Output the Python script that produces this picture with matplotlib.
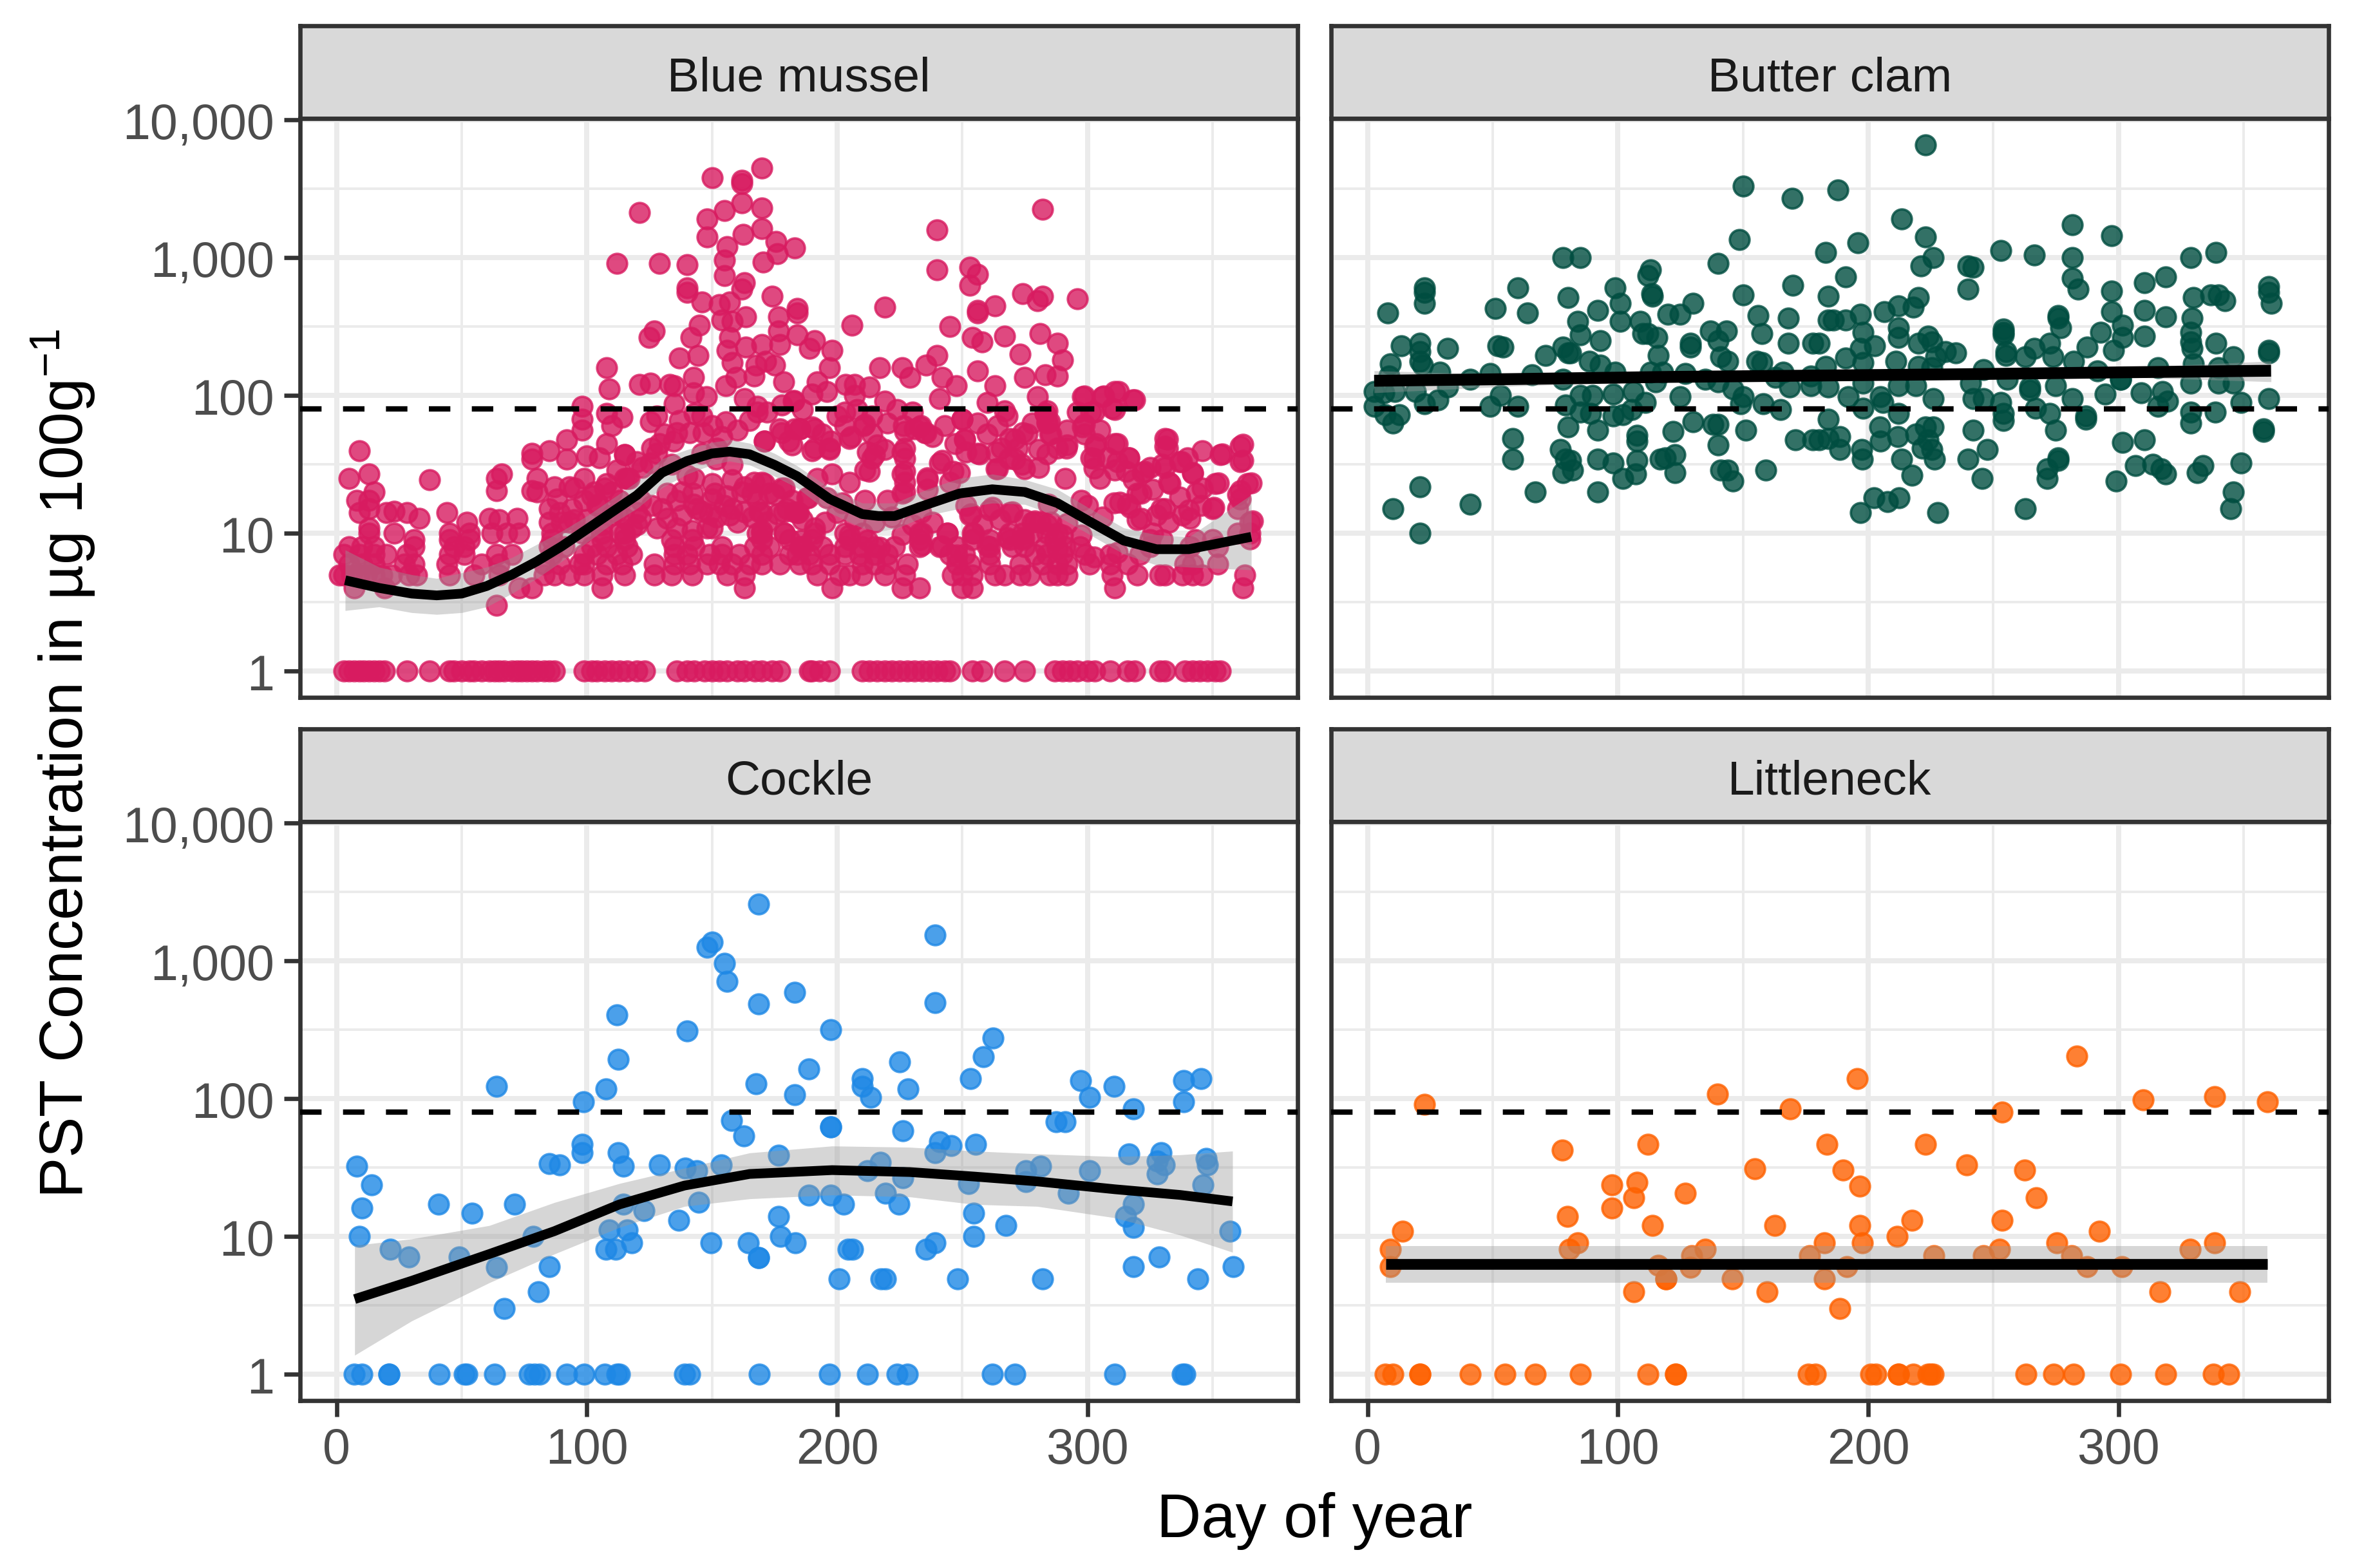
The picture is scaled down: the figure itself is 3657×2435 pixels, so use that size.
import numpy as np
import matplotlib
matplotlib.use("Agg")
import matplotlib.pyplot as plt

plt.rcParams['font.family'] = ['Liberation Sans', 'DejaVu Sans']
plt.rcParams['mathtext.fontset'] = 'custom'
plt.rcParams['mathtext.rm'] = 'Liberation Sans'
plt.rcParams['mathtext.default'] = 'rm'

# Blue mussel: days on the low detection rows (the values are discrete there)
mussel_at_1 = [3,5,7,9,11,13,15,17,19,28,37,45,47,50,53,55,58,61,63,65,67,70,72,74,76,78,80,83,85,87,
               99,102,104,107,110,113,116,120,123,136,140,143,147,150,153,156,160,163,167,170,174,177,
               190,189,193,197,210,213,216,219,222,225,228,231,234,237,240,243,245,254,258,267,275,
               287,290,293,296,300,303,309,316,319,329,331,339,342,345,348,351,353]
mussel_at_3 = [64]
mussel_at_4 = [7,19,73,78,106,163,198,226,233,250,254,311,362]
mussel_at_5 = [1,3,6,9,12,15,18,22,29,32,45,55,65,83,87,93,99,106,115,127,134,142,156,163,
               192,201,205,210,219,227,246,250,254,263,267,273,277,285,288,292,310,320,329,331,338,342,346,363]
mussel_at_6 = [5,10,15,27,31,44,58,65,83,89,97,99,108,114,127,135,141,148,153,158,165,170,177,185,
               190,197,210,215,220,228,248,253,261,273,282,288,292,301,309,316,339,342,352]
mussel_at_7 = [3,9,15,20,28,45,51,64,70,86,99,104,112,118,135,140,149,154,161,170,181,
               184,189,197,203,209,215,220,245,251,261,279,284,290,299,309,321]
mussel_at_8 = [5,10,15,31,47,51,85,91,102,108,116,135,143,154,167,173,185,
               186,194,203,210,215,223,233,241,248,261,270,275,283,291,297,325,341,352]
mussel_at_9 = [31,45,53,86,106,115,134,142,170,181,190,205,233,254,261,269,274,287,325,330,343,350]
mussel_at_10 = [13,23,45,53,62,68,73,86,106,115,170,179,191,203,210,233,244,254,269,274,278,284,288,326,360,365]

# Blue mussel: everything above the rows, as day and log10 of concentration
mussel_day = [9,5,13,15,8,13,9,13,13,20,23,28,33,37,44,52,61,65,72,66,64,64,78,78,85,92,92,80,80,78,87,93,
              98,98,98,108,109,99,100,108,105,110,114,115,115,107,121,112,129,140,140,140,150,162,162,170,
              148,155,162,170,148,156,162.5,170,175.6,176,183,170.5,155,155,163,162,174,153,157,154,158,163.4,
              184,184,176.6,176.6,184,177,170,163.5,157,156,158,167.5,171.4,175,178.6,182.5,159.6,166.8,155.6,
              147.8,142.5,142.5,135,121,125.5,133,135,163,168,168,155.6,143,128,125.5,136,146.5,129,134.6,177,183,
              171,180.6,125.5,151.7,143,158,170,179,132,142.4,151,166,172.7,121.5,138,149,157,170,180,184.5,142.5,
              158,150,170,121.5,108,115,85,89,94,99,104.5,85,93,113,120,110,115,127,125,137,144.5,141.6,145,146,
              282,240,240,253,256,253,274,282,280,296,263,256,256,219,206,245,254,258,267,281,273,288,290,191,189,
              198,197,217,226,235.4,240,229,242,247.6,256,263,275,283,288,192,203.4,207,213,190,196,207,219,203,
              241,260,267,280,283,298,306,311,318,310,301.4,250,298,233,227,235,210.6,205,190,185,284,274,269,251,
              331,331,353,361,361,364,311,303,291.6,316.5,330,337,342,351,346,333,360,322,312,301.4,241,256,263.5,
              271,280.5,226,215,197,211,226,236,249,263.5,275,291,305,318.4,205,192,198,310.6,316,329.5,340.6,350,
              360,338,327.6,320,365,365,269,278,261,253,233.5,220,211,202,196,188,184,226,236,245,297.5,284.4,292,320]
mussel_log = [1.60,1.40,1.43,1.30,1.24,1.24,1.15,1.18,1.04,1.15,1.16,1.15,1.11,1.39,1.15,1.08,1.11,1.10,1.11,1.43,1.40,1.31,
              1.58,1.54,1.60,1.68,1.54,1.40,1.30,1.31,1.34,1.34,1.92,1.83,1.75,2.20,2.05,1.40,1.56,1.65,1.55,1.78,1.84,1.57,
              1.40,1.33,3.33,2.96,2.96,2.95,2.78,2.75,3.58,3.56,3.54,3.65,3.28,3.34,3.40,3.36,3.15,3.08,3.17,3.21,3.12,3.03,3.07,
              2.97,2.98,2.87,2.82,2.77,2.72,2.66,2.68,2.55,2.54,2.57,2.63,2.60,2.57,2.47,2.44,2.37,2.37,2.35,2.42,2.33,2.24,2.22,
              2.25,2.22,2.10,1.96,2.13,2.14,2.07,1.99,2.13,2.02,1.94,2.08,2.09,2.08,2.07,1.98,1.92,1.88,1.81,1.87,1.85,1.81,1.73,
              1.73,1.65,1.67,1.76,1.76,1.67,1.67,1.51,1.54,1.40,1.39,1.37,1.33,1.29,1.29,1.29,1.29,1.29,1.24,1.13,1.14,1.13,1.15,
              1.18,1.15,1.21,1.18,1.04,1.02,1.11,1.87,1.57,1.18,1.15,1.18,1.24,1.21,1.08,1.08,1.24,1.15,1.13,1.11,2.47,2.42,2.27,
              2.29,2.42,2.51,2.68,3.35,3.20,2.91,2.93,2.88,2.80,2.74,2.72,2.69,2.70,2.65,2.62,2.60,2.64,2.51,2.50,2.42,2.39,2.43,
              2.45,2.30,2.38,2.26,2.40,2.34,2.33,2.20,2.20,2.20,2.22,2.29,2.13,2.13,2.07,2.18,2.07,2.13,2.15,2.14,2.10,2.08,2.08,
              2.06,2.01,2.03,2.00,1.96,1.88,1.98,1.95,1.89,1.99,1.87,1.99,1.99,2.03,1.97,1.91,1.88,1.83,1.77,1.77,1.74,1.73,1.78,
              1.69,1.77,1.76,1.80,1.73,1.69,1.68,1.69,1.63,1.57,1.63,1.52,1.36,1.65,1.63,1.62,1.55,1.50,1.52,1.44,1.36,1.33,1.36,
              1.28,1.44,1.52,1.55,1.51,1.58,1.59,1.54,1.61,1.59,1.57,1.62,1.46,1.43,1.39,1.44,1.47,1.47,1.40,1.40,1.39,1.37,1.40,
              1.43,1.22,1.21,1.18,1.17,1.18,1.18,1.13,1.13,1.10,1.08,0.96,1.15,1.08,1.17,1.13,1.15,1.24,1.24,1.22,1.26,1.26,1.15,
              1.29,1.32,1.37,1.24,1.21,1.07,1.29]

# Blue mussel: the thick band under the threshold, days 160 to 366 and days 85 to 160
band_day = [182.7,178,185,191,197.5,171,182,191,197,205.7,211,214,216,212,214,219,213,227,227,227,227,227,226.6,231,233.5,235.6,
            250,251,251.5,257,242,246.4,236,264,265.6,271,276,268.6,273.8,283,284,285,284,280.6,166.7,171,163,178,178.7,183,188.5,
            169,163,172,179,168,191,185.5,205,212,217,226,234,234,244,242,254.5,248,260,268,274.6,253.6,262,270,279,284,251.5,
            298.8,306.5,312.5,318.9,302.6,311,284,285,298.8,298.8,285.5,303.5,312,292,316.7,302.6,302.6,311,315.5,322.7,332,332,331,
            337.7,342,332.6,352.3,354,362,362,365.6,361,361,331,321.4,313,317,321.4,332.6,341,345.4,350.6,337,343.7,366,285.5,290,
            297.5,302.6,312,281,288,
            100,104,110,116,122,128,134,140,146,152,158,95,103,112,118,126,132,138,144,150,156,160,90,98,106,113,120,128,136,142,148,
            88,95,102,108,112,117,120,126,131,137,141,146,150,154,160,165,172,178,186,150,155,162,168,175,130,136,146,152,166,176,182,
            190,194,200,203,208,214,220,224,230,238,243,247,256,260,264,268,272,278,288,292,296,305,308,186,195,200,207,215,222,230,238,
            258,265,275,300,306,325,340,346,326]
band_log = [1.966,1.73,1.76,1.76,1.67,1.67,1.64,1.62,1.61,1.70,1.79,1.72,1.64,1.59,1.545,1.61,1.45,1.62,1.545,1.45,1.37,1.30,1.78,1.76,1.78,1.73,
            1.83,1.685,1.59,1.576,1.53,1.45,1.405,1.467,1.62,1.685,1.72,1.545,1.50,1.87,1.81,1.72,1.576,1.48,1.37,1.36,1.34,1.33,1.156,1.156,1.257,
            1.156,1.156,1.08,1.0,1.0,1.04,.95,.985,.95,.90,.99,1.0,.915,1.0,.907,1.0,.844,.907,.97,.97,1.14,1.187,1.156,1.09,1.06,1.20,
            1.997,1.997,2.03,1.97,1.88,1.90,1.89,1.81,1.79,1.72,1.72,1.65,1.65,1.64,1.55,1.545,1.475,1.46,1.45,1.45,1.685,1.62,1.48,
            1.52,1.436,1.37,1.366,1.576,1.646,1.53,1.366,1.31,1.25,1.18,1.29,1.226,1.187,1.11,1.08,1.11,1.20,1.187,1.265,1.296,1.09,1.08,.985,
            .985,.83,.86,1.08,.89,
            1.10,1.20,1.30,1.40,1.48,1.58,1.50,1.42,1.58,1.62,1.50,1.10,1.30,1.15,1.04,1.20,1.11,1.30,1.18,1.36,1.27,1.08,1.08,1.00,1.06,1.00,1.06,1.04,1.04,1.02,1.04,
            1.25,1.33,1.27,1.36,1.46,1.40,1.52,1.62,1.72,1.82,1.73,1.85,1.78,1.70,1.75,1.82,1.88,1.93,1.90,1.25,1.20,1.30,1.24,1.28,1.18,1.24,1.16,1.12,1.12,1.14,1.24,
            1.60,1.72,1.85,1.78,1.90,1.85,1.80,1.90,1.88,1.70,1.78,1.65,1.80,1.72,1.78,1.85,1.62,1.80,1.62,1.75,1.88,1.75,1.55,1.10,1.08,1.15,1.10,1.08,1.12,1.06,1.08,
            1.06,1.10,1.10,1.20,1.12,1.48,1.55,1.60,1.32]

mussel_fit_day = [3.4,17,30,40,50,60,70,80,90,100,110,120,130,140,150,157,165,175,184,197,210,216.5,223,236,249,262,275,288,301,314.5,327.6,340.6,365.5]
mussel_fit_log = [.66,.604,.563,.55,.563,.618,.70,.797,.907,1.03,1.154,1.277,1.44,1.525,1.58,1.593,1.574,1.497,1.415,1.25,1.14,1.126,1.126,1.21,1.29,1.32,1.30,1.22,1.085,.948,.885,.885,.975]
mussel_fit_hi = [.88,.755,.70,.673,.714,.755,.824,.92,1.016,1.126,1.25,1.374,1.54,1.607,1.66,1.68,1.654,1.58,1.49,1.33,1.22,1.22,1.22,1.32,1.40,1.43,1.39,1.32,1.18,1.04,.99,.975,1.28]
mussel_fit_lo = [.44,.467,.425,.412,.425,.467,.563,.673,.797,.934,1.07,1.18,1.33,1.43,1.497,1.525,1.497,1.415,1.33,1.15,1.04,1.016,1.03,1.13,1.18,1.22,1.21,1.126,.99,.85,.77,.755,.735]

# Butter clam
clam_day = [8,22.6,22.6,22.6,13.5,21,21,21,22,9,8.5,32,29,2.6,2.6,6.5,11,19,32,28,22.6,12.7,7,10,21,10,21,41,41,49,51,60,64,52,54,
            65.6,53,49,60,58,58,67,71,78,85,80,84,85,78,80,81,88.6,93,92,99,101,101,93,99,78,85,90,98,79,85,89,98,102,80,92,77,79,81,82,78,
            92,98,102,107,92,107.6,107.6,107.6,113,112,113.5,113.8,109,110,112,115.5,116,113,118,115,106,111,105.6,120,125,130,127,125,129,129,
            137,143.4,140,140,150,169.6,188,148.5,150,156,168,170,183,184,157.6,168,178,180.5,141,144,155.5,157.6,135,140,146,150,149,158,165,
            163,168.6,166,177,177,183,184,130,138,140,140,122,151,141,144,146,159,117,119,122.7,122.7,171,178,180.5,184,184,184,186,
            223,213.5,223,196,226,221,191,220,212,206.5,218,197,191,198,212,212,220,224,225.5,202.6,197,191,198,211,220,227,231,235,246,240,242,240,
            253,266.4,281.7,281.7,281.7,284,297.4,297.4,297.4,310.5,310.5,310.5,319,319,329,339,330,337,340,342.5,329.4,329,329,329.4,339,346,
            360,360,361,360,360,360,358,358,349,346,345,310.5,301.6,306.8,313.7,317,319,299,331.4,333.7,293,287.6,301.6,301.6,298,301,315.7,330,340,329,
            340,346,315.7,309,317.6,319.6,294.8,301,329,329,338.6,349,275.8,275.8,277,272.5,266.4,262.7,273.9,282,291.5,254,254,254,255,255,241,255.5,
            264.7,264.7,275,281.7,242,246,253,254,254,267,272.5,275,287,287,242,247.7,240,245.5,276,276,271.6,271.6,262.7,227.7,197,202.2,207.8,212.4,
            217.6,213.5,197.4,197.8,188.6,188.6,205,204.6,211.8,212,205,206,198,192,226,219,223,226,224,225.5,226.5,221.6,212,219,198,225.5]
clam_log = [2.60,2.78,2.75,2.67,2.36,2.38,2.32,2.25,2.22,2.23,2.14,2.34,2.17,2.03,1.92,2.02,2.03,2.03,2.06,1.97,1.94,1.86,1.86,1.80,1.34,1.18,1.0,1.21,2.12,
            2.16,2.63,2.78,2.60,2.36,2.35,2.15,2.0,1.92,1.92,1.69,1.54,1.30,2.29,3.0,3.0,2.71,2.54,2.44,2.35,2.31,2.31,2.25,2.40,2.62,2.78,2.67,2.54,2.22,2.17,2.12,2.0,2.0,
            2.01,1.93,1.88,1.87,1.85,1.86,1.77,1.75,1.61,1.54,1.53,1.46,1.44,1.54,1.51,1.40,1.43,1.30,1.71,1.67,1.53,2.91,2.87,2.74,2.72,2.54,2.45,2.45,2.42,2.29,2.17,2.17,2.10,
            2.03,1.95,1.90,2.59,2.59,2.67,2.16,1.99,2.38,2.35,2.47,2.47,2.40,2.96,3.52,3.43,3.49,3.13,2.73,2.58,2.56,2.80,3.04,2.72,2.45,2.38,2.38,2.38,2.28,2.25,2.25,2.24,2.12,
            2.10,2.05,1.99,1.94,1.94,1.90,2.13,2.06,2.17,2.07,2.14,2.21,2.06,1.81,1.79,1.79,1.64,1.74,1.75,1.46,1.46,1.38,1.46,1.54,1.55,1.57,1.44,1.68,1.68,1.68,1.83,1.69,2.55,2.55,
            3.82,3.28,3.15,3.11,3.0,2.94,2.86,2.71,2.65,2.61,2.64,2.59,2.55,2.46,2.49,2.42,2.38,2.43,2.39,2.36,2.34,2.27,2.24,2.25,2.21,2.28,2.32,2.31,2.19,2.94,2.93,2.77,
            3.05,3.02,3.24,3.0,2.85,2.77,3.16,2.76,2.61,2.82,2.62,2.43,2.86,2.57,3.0,3.04,2.71,2.73,2.73,2.69,2.56,2.46,2.39,2.34,2.38,2.28,
            2.79,2.75,2.67,2.33,2.31,1.98,1.76,1.74,1.51,1.30,1.18,1.68,1.66,1.49,1.50,1.47,1.43,1.38,1.44,1.49,2.46,2.35,2.51,2.42,2.33,2.12,2.20,2.23,2.20,2.09,
            2.09,2.09,1.92,2.02,2.03,1.96,2.01,2.12,1.88,1.80,1.88,1.95,2.58,2.56,2.49,2.38,2.34,2.28,2.28,2.25,2.18,2.48,2.46,2.44,2.32,2.29,2.09,2.12,
            2.06,2.04,2.07,1.98,1.98,1.98,1.95,1.87,1.82,1.91,1.87,1.75,1.85,1.83,1.75,1.61,1.54,1.40,1.55,1.53,1.47,1.40,1.18,1.15,1.15,1.26,1.23,1.26,
            1.42,1.54,1.61,1.54,1.61,1.70,1.67,1.77,1.70,1.87,1.99,1.95,1.91,1.99,1.98,1.72,1.77,1.77,1.68,1.61,1.54,1.62,2.07,2.07,2.09,2.20]
clam_fit_day = [2.6,60,120,180,240,300,361]
clam_fit_log = [2.107,2.12,2.135,2.145,2.155,2.168,2.18]
clam_fit_hi = [2.18,2.15,2.16,2.175,2.18,2.20,2.25]
clam_fit_lo = [2.02,2.07,2.10,2.12,2.13,2.135,2.10]

# Cockle
cockle_at_1 = [7,10,21,21,41,51,52,63,77,79,81,92,99,107,112,113,139,141,169,197,212,224,228,262,271,311,338,339]
cockle_day = [168.6,239,150,148,155,156,168.6,183,239,112,140,197.4,262.4,258.5,225,112.6,188.7,253.4,210,210,213.4,228.4,183,167.5,107.7,64,98.5,
              297.4,301,310.6,338.4,345.4,338.4,318.3,287.6,291,157.7,162.6,197.4,197.4,226.3,241,245.6,255.4,239,98,98,112.6,176.5,85,89,114.7,129,139.4,143.8,153.6,
              8,14,10,9,40.7,54,71,21.4,29,49,78.6,64,85,80.6,67,114.7,122.7,108.8,116,118,107.7,111.6,136.6,144.6,149.7,164.4,168.6,168.6,176.5,177.3,183.2,188.7,197.4,
              202.6,204.4,206.2,200.8,217.5,219.3,212,217.3,219.3,226.3,224.7,235.6,239.2,248.2,254.6,254.6,267.5,252.6,275.3,275.3,281.2,282.2,292.3,301,316.5,329.4,328,
              330.7,328,347.4,348,346.1,318.3,315.2,318.3,318.3,328.6,344,357,358.3]
cockle_log = [3.41,3.19,3.135,3.10,2.98,2.85,2.69,2.77,2.695,2.61,2.49,2.50,2.44,2.305,2.266,2.285,2.216,2.147,2.147,2.09,2.01,2.07,2.03,2.11,2.07,2.09,1.98,
              2.13,2.01,2.09,2.13,2.147,1.98,1.925,1.834,1.834,1.84,1.73,1.795,1.795,1.767,1.69,1.66,1.67,1.607,1.67,1.607,1.607,1.59,1.53,1.518,1.51,1.518,1.496,1.48,1.518,
              1.51,1.377,1.205,1.0,1.233,1.17,1.233,.906,.85,.853,1.0,.776,.784,.6,.476,1.233,1.19,1.05,1.05,.956,.906,.906,1.116,1.25,.956,.956,.845,.845,1.144,1.0,.956,1.3,1.3,
              1.233,.906,.906,.693,.693,.693,1.48,1.537,1.316,1.427,1.233,.906,.956,.693,1.17,1.0,1.08,1.385,1.48,1.4,1.51,.693,1.316,1.48,1.6,1.607,1.55,
              1.52,1.454,1.565,1.518,1.377,1.233,1.144,1.066,.78,.85,.693,1.04,.78]
cockle_fit_day = [7.2,30,61,87,113,139,165,198,229,255,280,311,337,358]
cockle_fit_log = [.546,.679,.873,1.039,1.233,1.37,1.454,1.482,1.468,1.435,1.4,1.343,1.302,1.255]
cockle_fit_hi = [.936,.983,1.08,1.247,1.385,1.496,1.607,1.657,1.648,1.62,1.6,1.58,1.593,1.62]
cockle_fit_lo = [.139,.388,.665,.873,1.066,1.219,1.274,1.302,1.288,1.233,1.219,1.136,1.011,.886]

# Littleneck
neck_at_1 = [7,10,21,21,41,55,67,85,112,123,123,176,179,201,203,212,212,218,224,225,226,263,274,282,301,319,338,344]
neck_day = [22.7,139.7,168.8,195.6,253.6,283.5,310,338.4,359.5,77.8,111.9,183.5,223,239.4,154.6,190,262.6,196.6,97.7,107.7,106.4,127,97.7,267.3,79.9,13.9,113.9,
            162.6,196.6,217.5,253.6,292.5,211.6,9,9,84,80.7,182.5,197.7,134.8,129.6,116,128.9,119.3,119.3,145.6,182.5,191.5,176.5,226.3,246,252.6,275.5,281.2,287.4,301.3,
            328.6,338.4,106.4,159.5,316.5,348.5,188.7]
neck_log = [1.96,2.036,1.925,2.147,1.903,2.31,1.99,2.017,1.98,1.626,1.67,1.67,1.67,1.518,1.49,1.482,1.482,1.366,1.377,1.393,1.28,1.316,1.205,1.28,1.144,1.04,1.08,
            1.08,1.08,1.116,1.116,1.04,1.0,.906,.78,.956,.906,.956,.956,.906,.859,.79,.776,.693,.693,.693,.693,.78,.859,.859,.859,.906,.956,.859,.78,.78,
            .906,.956,.6,.6,.6,.6,.476]
neck_fit_day = [7.2,359.5]
neck_fit_log = [.80,.80]
neck_fit_hi = [.933,.933]
neck_fit_lo = [.665,.665]

threshold = 80
y_ticks = [1, 10, 100, 1000, 10000]
y_labels = ['1', '10', '100', '1,000', '10,000']
y_minor = [10**0.5, 10**1.5, 10**2.5, 10**3.5]
x_ticks = [0, 100, 200, 300]
x_minor = [50, 150, 250, 350]

W, H = 3657, 2436
fig = plt.figure(figsize=(W/300, H/300), dpi=300)


def box(x0, y0, x1, y1):
    # pixel box, measured from the top left of the picture
    return [x0/W, 1 - y1/H, (x1-x0)/W, (y1-y0)/H]


def panel(x0, y0, title, days, logs, color, fit, lw, left, bottom):
    strip = fig.add_axes(box(x0, y0-144, x0+1549, y0))
    strip.set_facecolor('#D9D9D9')
    strip.set_xticks([])
    strip.set_yticks([])
    for s in strip.spines.values():
        s.set_color('#333333')
        s.set_linewidth(1.6)
    strip.text(0.5, 0.44, title, ha='center', va='center', fontsize=18, color='#1A1A1A',
               transform=strip.transAxes)

    ax = fig.add_axes(box(x0, y0, x0+1549, y0+899))
    ax.set_yscale('log')
    ax.set_xlim(-14.6, 384)
    ax.set_ylim(10**-0.19, 10**4.01)
    ax.set_axisbelow(True)
    ax.set_yticks(y_ticks)
    ax.set_yticks(y_minor, minor=True)
    ax.set_xticks(x_ticks)
    ax.set_xticks(x_minor, minor=True)
    ax.grid(which='major', color='#EBEBEB', lw=1.9)
    ax.grid(which='minor', color='#EBEBEB', lw=0.95)
    ax.tick_params(which='minor', length=0, labelleft=False, labelbottom=False)
    ax.tick_params(which='major', length=6, width=1.6, color='#333333', labelcolor='#4D4D4D',
                   labelsize=18.5, pad=3.6, left=left, labelleft=left, bottom=bottom, labelbottom=bottom)
    ax.set_yticklabels(y_labels if left else [])
    for s in ax.spines.values():
        s.set_color('#333333')
        s.set_linewidth(1.6)

    ax.scatter(days, 10**np.array(logs), s=54, color=color, alpha=0.8, linewidths=0.9, edgecolors=color, zorder=2)
    fd, fl, fh, flo = fit
    ax.fill_between(fd, 10**np.array(flo), 10**np.array(fh), color='#999999', alpha=0.4, lw=0, zorder=3)
    ax.plot(fd, 10**np.array(fl), color='black', lw=lw, solid_capstyle='butt', zorder=4)
    ax.axhline(threshold, color='black', lw=2.0, linestyle=(0, (4, 4)), zorder=5)
    return ax


low_rows = [(mussel_at_1, 1), (mussel_at_3, 3), (mussel_at_4, 4), (mussel_at_5, 5), (mussel_at_6, 6),
            (mussel_at_7, 7), (mussel_at_8, 8), (mussel_at_9, 9), (mussel_at_10, 10)]
all_mussel_day = mussel_day + band_day
all_mussel_log = mussel_log + band_log
for row, val in low_rows:
    all_mussel_day += row
    all_mussel_log += [np.log10(val)] * len(row)

panel(466, 185, 'Blue mussel', all_mussel_day, all_mussel_log, '#D81B60',
      (mussel_fit_day, mussel_fit_log, mussel_fit_hi, mussel_fit_lo), 3.6, True, False)
panel(2067, 185, 'Butter clam', clam_day, clam_log, '#004D40',
      (clam_fit_day, clam_fit_log, clam_fit_hi, clam_fit_lo), 4.4, False, False)
panel(466, 1277, 'Cockle', cockle_at_1 + cockle_day, [0]*len(cockle_at_1) + cockle_log, '#1E88E5',
      (cockle_fit_day, cockle_fit_log, cockle_fit_hi, cockle_fit_lo), 3.6, True, True)
panel(2067, 1277, 'Littleneck', neck_at_1 + neck_day, [0]*len(neck_at_1) + neck_log, '#FE6100',
      (neck_fit_day, neck_fit_log, neck_fit_hi, neck_fit_lo), 4.0, False, True)

fig.text(2041/W, 1 - 2362/H, 'Day of year', ha='center', va='center', fontsize=23, color='black')
fig.text(98/W, 1 - 1186/H, 'PST Concentration in \u00b5g 100g$^{\\mathregular{-1}}$', rotation=90,
         ha='center', va='center', fontsize=22.8, color='black')

fig.savefig('out.png', dpi=300)
